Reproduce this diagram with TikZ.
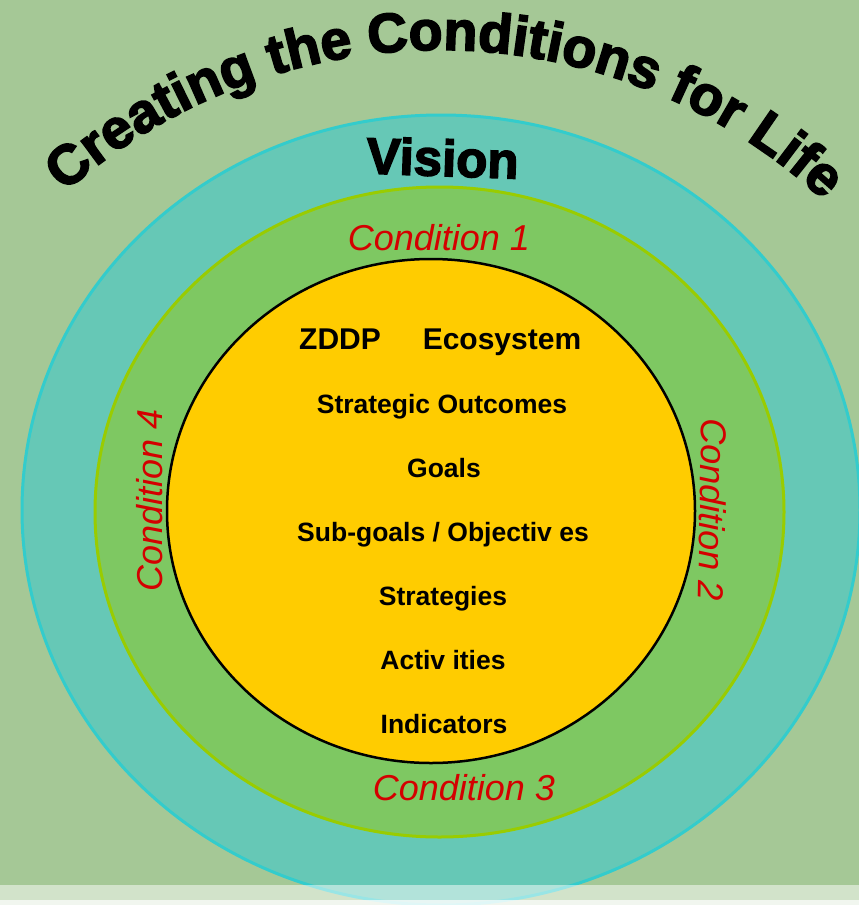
\documentclass[tikz,border=0pt]{standalone}
\usepackage{fontspec}
\setmainfont{Liberation Sans}
\newfontfamily\heavyfont{Liberation Sans Bold}[FakeBold=3]
\usetikzlibrary{decorations.text}
\definecolor{bgcol}{HTML}{A5C896}
\definecolor{cyanfill}{HTML}{66C8B6}
\definecolor{cyanline}{HTML}{33CCCC}
\definecolor{greenfill}{HTML}{7EC862}
\definecolor{greenline}{HTML}{99CC00}
\definecolor{yellowfill}{HTML}{FFCC00}
\definecolor{condred}{HTML}{D40000}
\tikzset{
  cond/.style={font=\itshape\fontsize{36}{40}\selectfont, text=condred, inner sep=0pt, anchor=base},
  big/.style={font=\bfseries\fontsize{30}{34}\selectfont, inner sep=0pt, anchor=base},
  item/.style={font=\bfseries\fontsize{26.5}{30}\selectfont, inner sep=0pt, anchor=base},
  vis/.style={font=\heavyfont\fontsize{51}{56}\selectfont, inner sep=0pt, anchor=base}
}
\begin{document}
\begin{tikzpicture}[x=1pt,y=-1pt]
\useasboundingbox (0,0) rectangle (859,905);
\clip (0,0) rectangle (859,905);
\fill[bgcol] (0,0) rectangle (859,905);
% rings
\path[fill=cyanfill, draw=cyanline, line width=3pt] (441,510) ellipse [x radius=419, y radius=395];
\path[fill=greenfill, draw=greenline, line width=3pt] (439.5,512) ellipse [x radius=344.5, y radius=325];
\path[fill=yellowfill, draw=black, line width=2.5pt] (431,511) ellipse [x radius=264, y radius=252];
% title along arc
\path[decorate, decoration={text along path, text align=center,
  text={|\heavyfont\fontsize{55.5}{60}\selectfont|Creating the Conditions for Life}}]
  (-88.9,416.2) arc[start angle=-159.4, end angle=-19.4, radius=565];
% vision
\node[vis, rotate=-2] (vision) at (442,176) {Vision};
% conditions
\node[cond] (c1) at (439,250) {Condition 1};
\node[cond, rotate=-91] (c2) at (700,510) {Condition 2};
\node[cond] (c3) at (464,800) {Condition 3};
\node[cond, rotate=90] (c4) at (162,500) {Condition 4};
% inner texts
\node[big] (zddp) at (340,349) {ZDDP};
\node[big] (eco) at (502,349) {Ecosystem};
\node[item] (so) at (442,413) {Strategic Outcomes};
\node[item] (goals) at (444,477) {Goals};
\node[item] (sub) at (443,541) {Sub-goals / Objectiv es};
\node[item] (strat) at (443,605) {Strategies};
\node[item] (act) at (443,669) {Activ ities};
\node[item] (ind) at (444,733) {Indicators};
% bottom strip
\fill[white, opacity=0.5] (0,885) rectangle (859,900);
\fill[white, opacity=0.85] (0,900) rectangle (859,905);
\end{tikzpicture}
\end{document}
